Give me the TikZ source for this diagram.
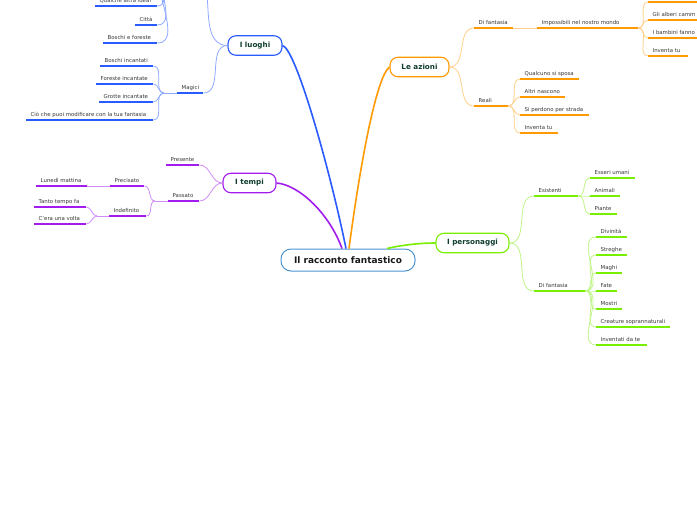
\documentclass[tikz,border=0pt]{standalone}
\usepackage{fontspec}
\setmainfont{DejaVu Sans}
\usetikzlibrary{calc}
\definecolor{bl}{HTML}{2A5BFF}
\definecolor{blL}{HTML}{8EA9FF}
\definecolor{orc}{HTML}{FF9A00}
\definecolor{orL}{HTML}{FFD08A}
\definecolor{pu}{HTML}{A21CF0}
\definecolor{puL}{HTML}{D08CF8}
\definecolor{gr}{HTML}{7AEE00}
\definecolor{grL}{HTML}{C0F58A}
\definecolor{cb}{HTML}{4A94D4}
\definecolor{tx}{HTML}{383838}
\definecolor{mt}{HTML}{0F3D30}
\newcommand{\itemsz}{\fontsize{5.4}{6}\selectfont}
\newcommand{\mainsz}{\fontsize{7.2}{8}\selectfont\bfseries}
\newcommand{\rootsz}{\fontsize{9}{10}\selectfont\bfseries}
\tikzset{
  item/.style 2 args={font=\itemsz, text=tx, inner xsep=0pt, inner ysep=0pt,
    text height=4pt, text depth=3.5pt, anchor=south west,
    execute at begin node={\hbox to #2\bgroup\hskip4.5pt},
    execute at end node={\hfil\egroup},
    append after command={(\tikzlastnode.south west) edge[draw=#1, line width=1.7pt] (\tikzlastnode.south east)}},
  mainnode/.style 2 args={draw=#1, line width=1.1pt, fill=white, rounded corners=8pt,
    font=\mainsz, text=mt, minimum width=#2, minimum height=19.5pt, inner sep=0pt},
  link/.style={draw=#1, line width=0.8pt},
  trunk/.style={draw=#1, line width=1.6pt},
}
\begin{document}
\begin{tikzpicture}[x=1pt,y=-1pt]
\useasboundingbox (0,0) rectangle (697,520);
\fill[white] (0,0) rectangle (697,520);
\clip (0,0) rectangle (697,520);

% root and main nodes
\node[draw=cb, line width=1pt, fill=white, rounded corners=10pt, font=\rootsz, text=black!90,
  minimum width=134pt, minimum height=22pt, inner sep=0pt] (root) at (348,260) {Il racconto fantastico};
\node[mainnode={bl}{54pt}] (luoghi) at (255,45.5) {I luoghi};
\node[mainnode={orc}{59pt}] (azioni) at (419.5,67) {Le azioni};
\node[mainnode={pu}{53pt}] (tempi) at (249.5,183) {I tempi};
\node[mainnode={gr}{73pt}] (pers) at (472.5,243) {I personaggi};

% I luoghi
\node[item={bl}{62pt}] (q1) at (95,6) {Qualche altra idea?};
\node[item={bl}{22pt}] (q2) at (135,25) {Città};
\node[item={bl}{54pt}] (q3) at (103,43) {Boschi e foreste};
\node[item={bl}{26pt}] (magici) at (177,93) {Magici};
\node[item={bl}{53pt}] (m1) at (100,66) {Boschi incantati};
\node[item={bl}{57pt}] (m2) at (96,84) {Foreste incantate};
\node[item={bl}{54pt}] (m3) at (99,102) {Grotte incantate};
\node[item={bl}{127pt}] (m4) at (26,120) {Ciò che puoi modificare con la tua fantasia};

% Le azioni
\node[item={orc}{39pt}] (dfo) at (474,28) {Di fantasia};
\node[item={orc}{101pt}] (imp) at (537,28) {Impossibili nel nostro mondo};
\node[item={orc}{60pt}] (i0) at (648,2) {};
\node[item={orc}{60pt}] (i1) at (648,20) {Gli alberi camm};
\node[item={orc}{60pt}] (i2) at (648,38) {I bambini fanno};
\node[item={orc}{40pt}] (i3) at (648,56) {Inventa tu};
\node[item={orc}{34pt}] (realio) at (474,106) {Reali};
\node[item={orc}{59pt}] (r1) at (520,79) {Qualcuno si sposa};
\node[item={orc}{45pt}] (r2) at (520,97) {Altri nascono};
\node[item={orc}{69pt}] (r3) at (520,115) {Si perdono per strada};
\node[item={orc}{38pt}] (r4) at (520,133) {Inventa tu};

% I tempi
\node[item={pu}{33pt}] (pres) at (166,165) {Presente};
\node[item={pu}{31pt}] (pass) at (168,201) {Passato};
\node[item={pu}{34pt}] (prec) at (110,186) {Precisato};
\node[item={pu}{51pt}] (lun) at (36,186) {Lunedì mattina};
\node[item={pu}{37pt}] (indef) at (109,216) {Indefinito};
\node[item={pu}{52pt}] (tanto) at (34,207) {Tanto tempo fa};
\node[item={pu}{52pt}] (cera) at (34,224) {C'era una volta};

% I personaggi
\node[item={gr}{44pt}] (esist) at (534,196) {Esistenti};
\node[item={gr}{45pt}] (e1) at (590,178) {Esseri umani};
\node[item={gr}{30pt}] (e2) at (590,196) {Animali};
\node[item={gr}{27pt}] (e3) at (590,214) {Piante};
\node[item={gr}{51pt}] (dfg) at (534,291) {Di fantasia};
\node[item={gr}{31pt}] (f1) at (596,237) {Divinità};
\node[item={gr}{31pt}] (f2) at (596,255) {Streghe};
\node[item={gr}{26pt}] (f3) at (596,273) {Maghi};
\node[item={gr}{21pt}] (f4) at (596,291) {Fate};
\node[item={gr}{26pt}] (f5) at (596,309) {Mostri};
\node[item={gr}{74pt}] (f6) at (596,327) {Creature soprannaturali};
\node[item={gr}{51pt}] (f7) at (596,345) {Inventati da te};

% trunks
\coordinate (b0) at ($(root.north)+(-2,0)$);
\coordinate (o0) at ($(root.north)+(1,0)$);
\coordinate (p0) at ($(root.north)+(-6,0)$);
\coordinate (g0) at ($(root.north)+(39,0)$);
\draw[trunk=bl] (b0) .. controls (330,170) and (296,49) .. (luoghi.east);
\draw[trunk=orc] (o0) .. controls (358,180) and (375,78) .. (azioni.west);
\draw[trunk=pu] (tempi.east) .. controls (300,185) and (330,215) .. (p0);
\draw[trunk=gr] (g0) .. controls (402,245) and (420,243) .. (pers.west);

% blue links
\coordinate (reali) at (188,-35);
\coordinate (jR) at (169,-35);
\coordinate (jM) at (164,93);
\draw[link=blL] (luoghi.west) to[out=180,in=0] (reali);
\draw[link=blL] (luoghi.west) to[out=180,in=0] (magici.south east);
\foreach \n in {q1,q2,q3} \draw[link=blL] (jR) to[out=180,in=0] (\n.south east);
\draw[link=blL] (magici.south west) -- (jM);
\foreach \n in {m1,m2,m3,m4} \draw[link=blL] (jM) to[out=180,in=0] (\n.south east);

% orange links
\draw[link=orL] (azioni.east) to[out=0,in=180] (dfo.south west);
\draw[link=orL] (azioni.east) to[out=0,in=180] (realio.south west);
\draw[link=orL] (dfo.south east) -- (imp.south west);
\foreach \n in {i0,i1,i2,i3} \draw[link=orL] (imp.south east) to[out=0,in=180] (\n.south west);
\foreach \n in {r1,r2,r3,r4} \draw[link=orL] (realio.south east) to[out=0,in=180] (\n.south west);

% purple links
\coordinate (jP) at (155,201);
\coordinate (jI) at (97,216);
\draw[link=puL] (tempi.west) to[out=180,in=0] (pres.south east);
\draw[link=puL] (tempi.west) to[out=180,in=0] (pass.south east);
\draw[link=puL] (pass.south west) -- (jP);
\draw[link=puL] (jP) to[out=180,in=0] (prec.south east);
\draw[link=puL] (jP) to[out=180,in=0] (indef.south east);
\draw[link=puL] (prec.south west) -- (lun.south east);
\draw[link=puL] (indef.south west) -- (jI);
\draw[link=puL] (jI) to[out=180,in=0] (tanto.south east);
\draw[link=puL] (jI) to[out=180,in=0] (cera.south east);

% green links
\draw[link=grL] (pers.east) to[out=0,in=180] (esist.south west);
\draw[link=grL] (pers.east) to[out=0,in=180] (dfg.south west);
\foreach \n in {e1,e2,e3} \draw[link=grL] (esist.south east) to[out=0,in=180] (\n.south west);
\foreach \n in {f1,f2,f3,f4,f5,f6,f7} \draw[link=grL] (dfg.south east) to[out=0,in=180] (\n.south west);
\end{tikzpicture}
\end{document}
